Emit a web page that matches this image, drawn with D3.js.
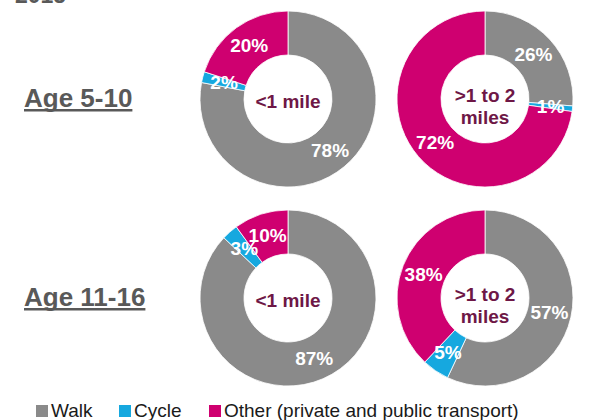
<!DOCTYPE html>
<html>
<head>
<meta charset="utf-8">
<script src="https://cdn.jsdelivr.net/npm/d3@7"></script>
<style>
  html, body { margin: 0; padding: 0; background: #fff; }
  svg { display: block; }
</style>
</head>
<body>
<svg id="chart" width="600" height="420"></svg>
<script>
// Mode of travel to school by distance, two age groups
const modes = ["Walk", "Cycle", "Other (private and public transport)"];
const ageGroups = ["Age 5-10", "Age 11-16"];
const distances = ["<1 mile", ">1 to 2 miles"];
const distanceLines = [["<1 mile"], [">1 to 2", "miles"]];

// One value per panel: [5-10 <1 mile, 5-10 1-2 miles, 11-16 <1 mile, 11-16 1-2 miles]
const walk  = [78, 26, 87, 57];
const cycle = [2, 1, 3, 5];
const other = [20, 72, 10, 38];

const modeColors = ["#8a8a8a", "#16a8df", "#cf0070"];

const svg = d3.select("#chart");
const font = "'Liberation Sans', Arial, sans-serif";

const color = d3.scaleOrdinal().domain(modes).range(modeColors);
const xPos = d3.scalePoint().domain(distances).range([288, 485]);
const yPos = d3.scalePoint().domain(ageGroups).range([99, 298]);

const outerR = 88, innerR = 44;
const arc = d3.arc().innerRadius(innerR).outerRadius(outerR);
const pie = d3.pie().sort(null).value(d => d.value);

// Partly clipped heading at the very top
svg.append("text")
  .attr("x", 15).attr("y", 2.5)
  .attr("font-family", font).attr("font-weight", "bold")
  .attr("font-size", 23).attr("fill", "#595959")
  .text("2015");

// Age group labels with underline
ageGroups.forEach(g => {
  const base = yPos(g) + 8;
  const t = svg.append("text")
    .attr("x", 24).attr("y", base)
    .attr("font-family", font).attr("font-weight", "bold")
    .attr("font-size", 26).attr("fill", "#595959")
    .text(g);
  const w = t.node().getComputedTextLength();
  svg.append("rect")
    .attr("x", 24).attr("y", base + 2)
    .attr("width", w).attr("height", 2.5)
    .attr("fill", "#595959");
});

// Donuts
ageGroups.forEach((g, gi) => {
  distances.forEach((dist, di) => {
    const i = gi * 2 + di;
    const data = [
      { mode: modes[0], value: walk[i] },
      { mode: modes[1], value: cycle[i] },
      { mode: modes[2], value: other[i] }
    ];
    const cx = xPos(dist), cy = yPos(g);
    const grp = svg.append("g").attr("transform", `translate(${cx},${cy})`);
    const arcs = pie(data);

    grp.selectAll("path")
      .data(arcs)
      .join("path")
      .attr("d", arc)
      .attr("fill", d => color(d.data.mode))
      .attr("stroke", "#fff")
      .attr("stroke-width", 0.8);

    grp.selectAll("text.pct")
      .data(arcs)
      .join("text")
      .attr("class", "pct")
      .attr("transform", d => `translate(${arc.centroid(d)})`)
      .attr("text-anchor", "middle")
      .attr("dy", "0.36em")
      .attr("font-family", font).attr("font-weight", "bold")
      .attr("font-size", 19).attr("fill", "#fff")
      .text(d => d.data.value + "%");

    const lines = distanceLines[di];
    const ys = lines.length === 1 ? [8.5] : [3, 25];
    grp.selectAll("text.dist")
      .data(lines)
      .join("text")
      .attr("class", "dist")
      .attr("x", 0)
      .attr("y", (d, k) => ys[k])
      .attr("text-anchor", "middle")
      .attr("font-family", font).attr("font-weight", "bold")
      .attr("font-size", 19).attr("fill", "#6e1746")
      .text(d => d);
  });
});

// Legend
const legendX = [36, 119, 209];
const legend = svg.append("g");
modes.forEach((m, k) => {
  legend.append("rect")
    .attr("x", legendX[k]).attr("y", 405)
    .attr("width", 12).attr("height", 12)
    .attr("fill", color(m));
  legend.append("text")
    .attr("x", legendX[k] + 15).attr("y", 417)
    .attr("font-family", font).attr("font-size", 19)
    .attr("fill", "#1a1a1a")
    .text(m);
});
</script>
</body>
</html>
